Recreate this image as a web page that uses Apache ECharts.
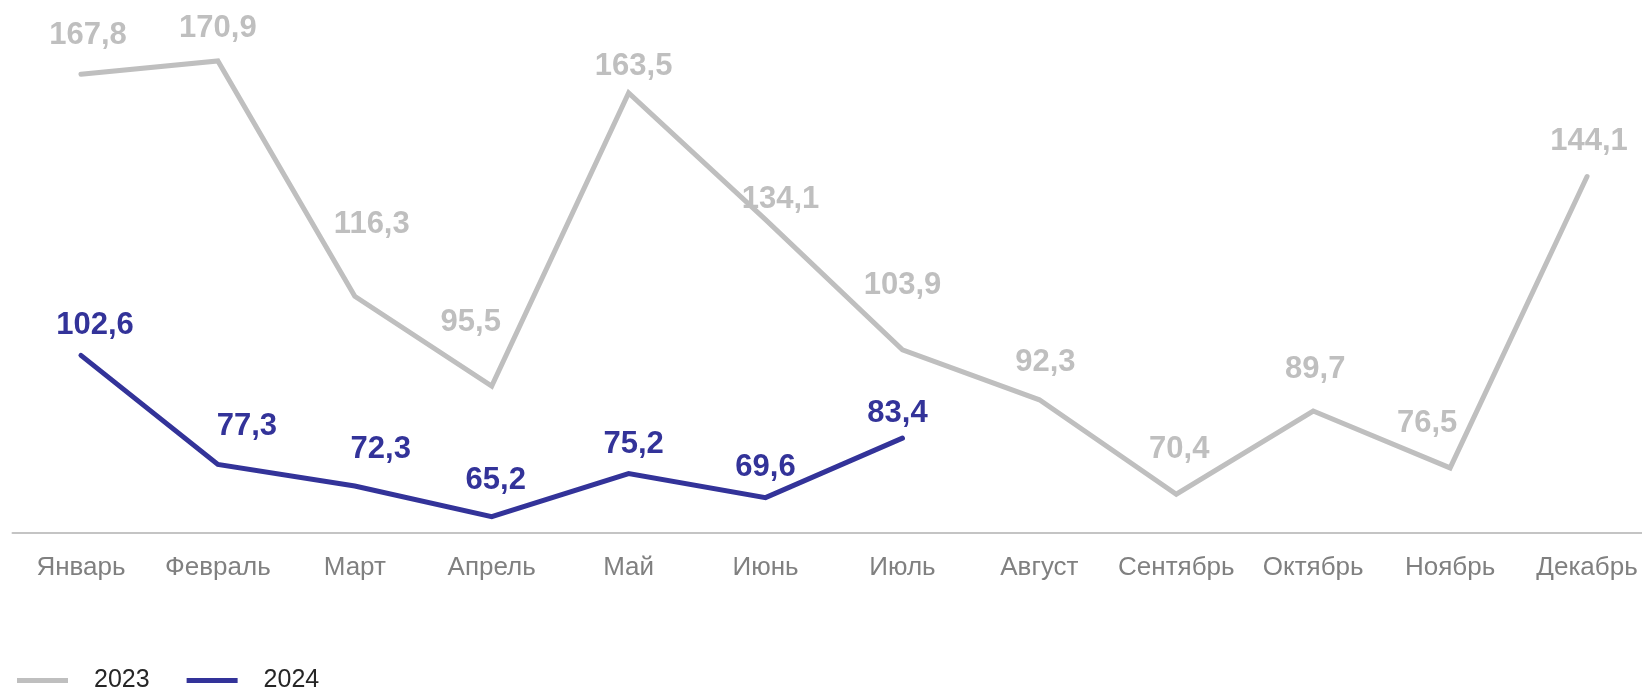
<!DOCTYPE html>
<html>
<head>
<meta charset="utf-8">
<script src="https://cdn.jsdelivr.net/npm/echarts@6/dist/echarts.min.js"></script>
<style>
html,body{margin:0;padding:0;background:#fff;}
#chart{width:1642px;height:688px;}
</style>
</head>
<body>
<div id="chart"></div>
<script>
const categories = ['Январь','Февраль','Март','Апрель','Май','Июнь','Июль','Август','Сентябрь','Октябрь','Ноябрь','Декабрь'];
const seriesNames = ['2023','2024'];
const values2023 = [167.8,170.9,116.3,95.5,163.5,134.1,103.9,92.3,70.4,89.7,76.5,144.1];
const values2024 = [102.6,77.3,72.3,65.2,75.2,69.6,83.4];

// label placement (pixel offsets of each value label from its point)
const labelOffsets2023 = [[7,-39],[0,-33],[17,-72],[-21,-64],[5,-26],[15,-20],[0,-64],[6,-37],[3,-45],[2,-42],[-23,-44],[2,-35]];
const labelOffsets2024 = [[14,-30],[29,-38],[26,-37],[4,-36],[5,-29],[0,-30],[-5,-25]];

const FONT = '"Liberation Sans", Arial, sans-serif';
const C2023 = '#BFBFBF';
const C2024 = '#333399';

function fmt(v){ return v.toFixed(1).replace('.', ','); }
function buildData(vals, offs){
  return vals.map((v,i)=>({value:v, label:{offset:offs[i]}}));
}

const chart = echarts.init(document.getElementById('chart'), null, {renderer:'canvas'});
chart.setOption({
  animation:false,
  backgroundColor:'#fff',
  grid:{left:12.5, width:1643, top:20, height:513, containLabel:false, outerBoundsMode:'none'},
  xAxis:{
    type:'category',
    data:categories,
    boundaryGap:true,
    axisLine:{show:true, lineStyle:{color:'#C4C4C4', width:2}},
    axisTick:{show:false},
    axisLabel:{color:'#808080', fontFamily:FONT, fontSize:26, margin:22, interval:0}
  },
  yAxis:{
    type:'value', min:61.4, max:180.4,
    show:false, splitLine:{show:false}
  },
  legend:{
    left:12, top:663,
    icon:'rect', itemWidth:51, itemHeight:5, itemGap:37,
    textStyle:{color:'#262626', fontFamily:FONT, fontSize:25, padding:[0,0,0,21]},
    data:seriesNames
  },
  series:[
    {
      name:seriesNames[0], type:'line', data:buildData(values2023, labelOffsets2023),
      symbol:'circle', symbolSize:0, showSymbol:true, itemStyle:{color:C2023},
      lineStyle:{color:C2023, width:5, cap:'round', join:'miter'},
      label:{show:true, position:'inside', color:C2023, fontFamily:FONT, fontSize:31, fontWeight:'bold',
        formatter:p=>fmt(p.value)},
      z:2
    },
    {
      name:seriesNames[1], type:'line', data:buildData(values2024, labelOffsets2024),
      symbol:'circle', symbolSize:0, showSymbol:true, itemStyle:{color:C2024},
      lineStyle:{color:C2024, width:5, cap:'round', join:'miter'},
      label:{show:true, position:'inside', color:C2024, fontFamily:FONT, fontSize:31, fontWeight:'bold',
        formatter:p=>fmt(p.value)},
      z:3
    }
  ]
});
</script>
</body>
</html>
